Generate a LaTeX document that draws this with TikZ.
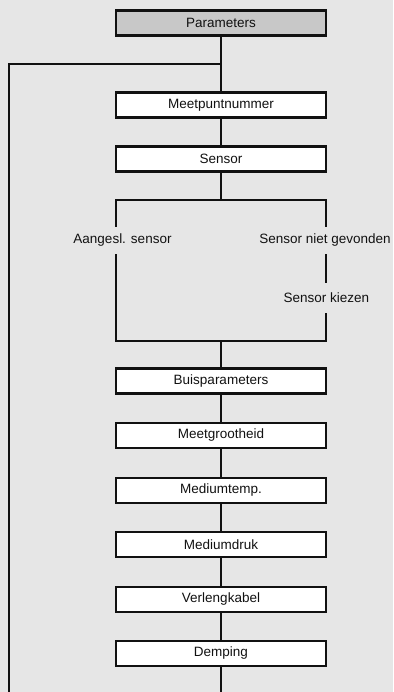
\documentclass[tikz,border=0pt]{standalone}
\usepackage{fontspec}
\setmainfont{Liberation Sans}
\definecolor{bggray}{HTML}{E6E6E6}
\definecolor{headgray}{HTML}{C8C8C8}
\definecolor{ink}{HTML}{111111}
\begin{document}
\begin{tikzpicture}[x=1pt,y=-1pt,
  font=\fontsize{13.5}{16}\selectfont,
  wire/.style={draw=ink,line width=2.6pt},
  stepbox/.style={draw=ink,line width=2.6pt,fill=white,minimum width=210pt,
    minimum height=25pt,inner sep=0pt,text=ink},
  headbox/.style={stepbox,fill=headgray},
  branchlabel/.style={inner sep=0pt,text=ink,minimum height=27pt}]
  \fill[bggray] (0,0) rectangle (393,692);
  \useasboundingbox (0,0) rectangle (393,692);

  % menu entries
  \node[headbox] (params) at (221,23.3) {Parameters};
  \node[stepbox] (mpn)    at (221,104.8) {Meetpuntnummer};
  \node[stepbox] (sensor) at (221,159) {Sensor};
  \node[stepbox] (buis)   at (221,381) {Buisparameters};
  \node[stepbox] (meetg)  at (221,435.5) {Meetgrootheid};
  \node[stepbox] (mtemp)  at (221,490.3) {Mediumtemp.};
  \node[stepbox] (mdruk)  at (221,544.5) {Mediumdruk};
  \node[stepbox] (verl)   at (221,599.5) {Verlengkabel};
  \node[stepbox] (demp)   at (221,653.5) {Demping};

  % branch labels
  \node[branchlabel] (aang) at (122.5,240.5) {Aangesl. sensor};
  \node[branchlabel] (sng)  at (325,240.5) {Sensor niet gevonden};
  \node[branchlabel,minimum height=30pt] (skz) at (326.3,298) {Sensor kiezen};

  % helper points of the wiring
  \coordinate (split) at (221,64);
  \coordinate (fl)    at (9,64);
  \coordinate (flb)   at (9,692);
  \coordinate (tm)    at (221,200);
  \coordinate (tl)    at (116,200);
  \coordinate (tr)    at (326,200);
  \coordinate (bm)    at (221,341);
  \coordinate (bl)    at (116,341);
  \coordinate (br)    at (326,341);
  \coordinate (bot)   at (221,692);

  % connectors
  \draw[wire] (params) -- (mpn);
  \draw[wire] (split) -- (fl) -- (flb);
  \draw[wire] (mpn) -- (sensor);
  \draw[wire] (sensor) -- (tm);
  \draw[wire] (aang.north -| tl) -- (tl) -- (tr) -- (sng.north -| tr);
  \draw[wire] (sng.south -| tr) -- (skz.north -| tr);
  \draw[wire] (aang.south -| tl) -- (bl) -- (br) -- (skz.south -| tr);
  \draw[wire] (bm) -- (buis);
  \draw[wire] (buis) -- (meetg);
  \draw[wire] (meetg) -- (mtemp);
  \draw[wire] (mtemp) -- (mdruk);
  \draw[wire] (mdruk) -- (verl);
  \draw[wire] (verl) -- (demp);
  \draw[wire] (demp) -- (bot);
\end{tikzpicture}
\end{document}
